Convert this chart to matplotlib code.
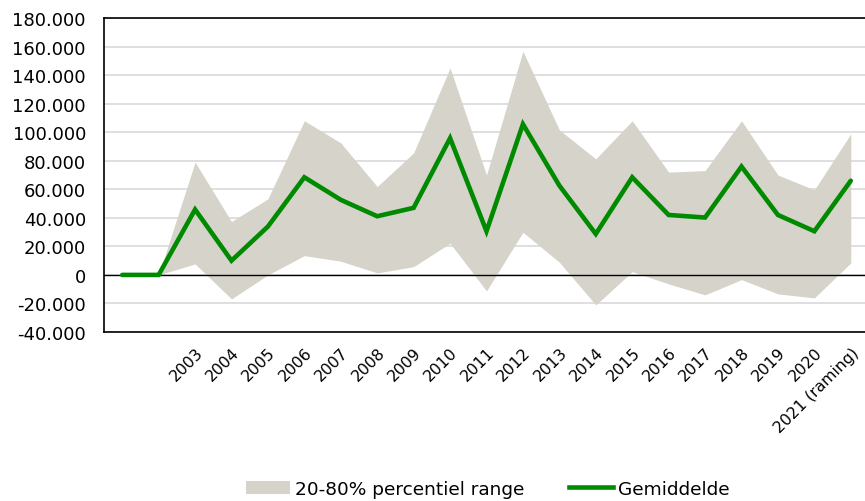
import numpy as np
import matplotlib.pyplot as plt
from matplotlib.patches import Patch
from matplotlib.lines import Line2D
from matplotlib.ticker import FuncFormatter

# categorieen (eerste twee zonder label)
labels = ['', '', '2003', '2004', '2005', '2006', '2007', '2008', '2009', '2010',
          '2011', '2012', '2013', '2014', '2015', '2016', '2017', '2018', '2019',
          '2020', '2021 (raming)']

gemiddelde = [0, 0, 45800, 10000, 33900, 68400, 52600, 41100, 47000, 95800,
              30600, 105600, 62600, 28700, 68400, 42000, 40200, 75900, 42000,
              30600, 66000]

p80 = [np.nan, 0, 79000, 37400, 53300, 108000, 92500, 61900, 85500, 145000,
       70000, 156700, 101600, 81300, 108000, 72000, 73100, 108000, 70000,
       59600, 98800]

p20 = [np.nan, 0, 7700, -16800, 0, 13500, 9600, 1400, 5800, 22200,
       -11200, 29900, 8900, -21000, 2300, -6300, -14000, -3300, -13300,
       -16100, 8400]

x = np.arange(len(labels))

plt.rcParams['font.family'] = 'DejaVu Sans'
fig = plt.figure(figsize=(8.65, 5.02), dpi=100)
ax = fig.add_axes([104 / 865, 1 - 333 / 502, (869 - 104) / 865, (333 - 19) / 502])

band_color = '#D5D3CA'
line_color = '#008A00'

ax.fill_between(x, p20, p80, color=band_color, linewidth=0, zorder=1)
ax.plot(x, gemiddelde, color=line_color, linewidth=3.3, solid_capstyle='round',
        solid_joinstyle='miter', zorder=3)
ax.axhline(0, color='black', linewidth=1.0, zorder=2)

ax.set_xlim(-0.5, 20.5)
ax.set_ylim(-40000, 180000)
ax.set_yticks(np.arange(-40000, 180001, 20000))
ax.yaxis.set_major_formatter(FuncFormatter(lambda v, p: f'{int(v):,}'.replace(',', '.')))
ax.grid(axis='y', color='#D9D9D9', linewidth=1.2, zorder=0)
ax.set_axisbelow(True)

ax.set_xticks(x)
ax.set_xticklabels(labels, rotation=45, ha='right', rotation_mode='anchor')
ax.tick_params(axis='both', length=0, colors='black')
ax.tick_params(axis='x', pad=9, labelsize=11.3)
ax.tick_params(axis='y', pad=13, labelsize=13)

for side in ['top', 'left', 'bottom']:
    ax.spines[side].set_color('black')
    ax.spines[side].set_linewidth(1.2)
ax.spines['right'].set_visible(False)

handles = [Patch(facecolor=band_color, edgecolor='none'),
           Line2D([0], [0], color=line_color, linewidth=3.3)]
fig.legend(handles, ['20-80% percentiel range', 'Gemiddelde'], loc='center',
           bbox_to_anchor=(0.5636, 0.024), ncol=2, frameon=False, fontsize=13.3,
           handlelength=2.4, handletextpad=0.25, columnspacing=2.4,
           borderpad=0.1)

fig.savefig('out.png', dpi=100)
